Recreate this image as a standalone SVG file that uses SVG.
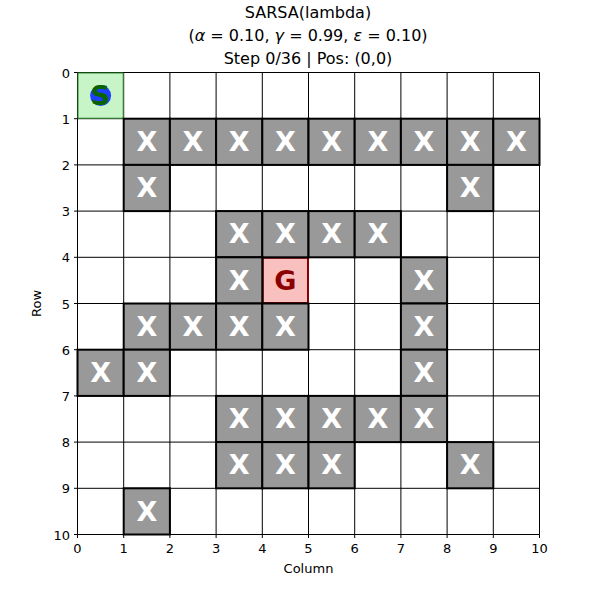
<svg xmlns="http://www.w3.org/2000/svg" width="600" height="600" viewBox="0 0 600 600">
<style>
text{font-family:"DejaVu Sans","Liberation Sans",sans-serif;fill:#000}
.title{font-size:16px;text-anchor:middle}
.tick{font-size:13px}
.tx{text-anchor:middle}
.ty{text-anchor:end}
.grid line{stroke:#000;stroke-width:1}
.obs rect{fill:#999999;stroke:#000;stroke-width:2}
.obs text{fill:#fff;font-size:27px;font-weight:bold;text-anchor:middle}
.ax{stroke:#000;stroke-width:1}
</style>
<rect width="600" height="600" fill="#fff"/>
<text class="title" x="308" y="18">SARSA(lambda)</text>
<text class="title" x="308" y="41">(<tspan font-style="italic">α</tspan> = 0.10, <tspan font-style="italic">γ</tspan> = 0.99, <tspan font-style="italic">ε</tspan> = 0.10)</text>
<text class="title" x="308" y="64">Step 0/36 | Pos: (0,0)</text>
<g class="grid">
<line x1="77.5" y1="72.5" x2="539.5" y2="72.5"/><line x1="77.5" y1="118.7" x2="539.5" y2="118.7"/><line x1="77.5" y1="164.9" x2="539.5" y2="164.9"/><line x1="77.5" y1="211.1" x2="539.5" y2="211.1"/><line x1="77.5" y1="257.3" x2="539.5" y2="257.3"/><line x1="77.5" y1="303.5" x2="539.5" y2="303.5"/><line x1="77.5" y1="349.7" x2="539.5" y2="349.7"/><line x1="77.5" y1="395.9" x2="539.5" y2="395.9"/><line x1="77.5" y1="442.1" x2="539.5" y2="442.1"/><line x1="77.5" y1="488.3" x2="539.5" y2="488.3"/><line x1="77.5" y1="534.5" x2="539.5" y2="534.5"/>
<line x1="77.5" y1="72.5" x2="77.5" y2="534.5"/><line x1="123.7" y1="72.5" x2="123.7" y2="534.5"/><line x1="169.9" y1="72.5" x2="169.9" y2="534.5"/><line x1="216.1" y1="72.5" x2="216.1" y2="534.5"/><line x1="262.3" y1="72.5" x2="262.3" y2="534.5"/><line x1="308.5" y1="72.5" x2="308.5" y2="534.5"/><line x1="354.7" y1="72.5" x2="354.7" y2="534.5"/><line x1="400.9" y1="72.5" x2="400.9" y2="534.5"/><line x1="447.1" y1="72.5" x2="447.1" y2="534.5"/><line x1="493.3" y1="72.5" x2="493.3" y2="534.5"/><line x1="539.5" y1="72.5" x2="539.5" y2="534.5"/>
</g>
<g id="start">
<rect x="78" y="73" width="45.2" height="45.2" fill="#c8f5c8" stroke="#2e8b2e" stroke-width="1"/>
<circle cx="100.6" cy="95.6" r="10.5" fill="#1f3fff"/>
<text x="100.6" y="105" font-size="27" font-weight="bold" text-anchor="middle" style="fill:#0a6400">S</text>
</g>
<g id="goal">
<rect x="262.8" y="257.8" width="45.2" height="45.2" fill="#f9c0c0" stroke="#8b0000" stroke-width="2"/>
<text x="285.4" y="290" font-size="27" font-weight="bold" text-anchor="middle" style="fill:#8b0000">G</text>
</g>
<g class="obs">
<g id="o-1-1"><rect x="123.7" y="118.7" width="46.2" height="46.2"/><text x="146.8" y="151">X</text></g>
<g id="o-1-2"><rect x="169.9" y="118.7" width="46.2" height="46.2"/><text x="193" y="151">X</text></g>
<g id="o-1-3"><rect x="216.1" y="118.7" width="46.2" height="46.2"/><text x="239.2" y="151">X</text></g>
<g id="o-1-4"><rect x="262.3" y="118.7" width="46.2" height="46.2"/><text x="285.4" y="151">X</text></g>
<g id="o-1-5"><rect x="308.5" y="118.7" width="46.2" height="46.2"/><text x="331.6" y="151">X</text></g>
<g id="o-1-6"><rect x="354.7" y="118.7" width="46.2" height="46.2"/><text x="377.8" y="151">X</text></g>
<g id="o-1-7"><rect x="400.9" y="118.7" width="46.2" height="46.2"/><text x="424" y="151">X</text></g>
<g id="o-1-8"><rect x="447.1" y="118.7" width="46.2" height="46.2"/><text x="470.2" y="151">X</text></g>
<g id="o-1-9"><rect x="493.3" y="118.7" width="46.2" height="46.2"/><text x="516.4" y="151">X</text></g>
<g id="o-2-1"><rect x="123.7" y="164.9" width="46.2" height="46.2"/><text x="146.8" y="197.2">X</text></g>
<g id="o-2-8"><rect x="447.1" y="164.9" width="46.2" height="46.2"/><text x="470.2" y="197.2">X</text></g>
<g id="o-3-3"><rect x="216.1" y="211.1" width="46.2" height="46.2"/><text x="239.2" y="243.4">X</text></g>
<g id="o-3-4"><rect x="262.3" y="211.1" width="46.2" height="46.2"/><text x="285.4" y="243.4">X</text></g>
<g id="o-3-5"><rect x="308.5" y="211.1" width="46.2" height="46.2"/><text x="331.6" y="243.4">X</text></g>
<g id="o-3-6"><rect x="354.7" y="211.1" width="46.2" height="46.2"/><text x="377.8" y="243.4">X</text></g>
<g id="o-4-3"><rect x="216.1" y="257.3" width="46.2" height="46.2"/><text x="239.2" y="289.6">X</text></g>
<g id="o-4-7"><rect x="400.9" y="257.3" width="46.2" height="46.2"/><text x="424" y="289.6">X</text></g>
<g id="o-5-1"><rect x="123.7" y="303.5" width="46.2" height="46.2"/><text x="146.8" y="335.8">X</text></g>
<g id="o-5-2"><rect x="169.9" y="303.5" width="46.2" height="46.2"/><text x="193" y="335.8">X</text></g>
<g id="o-5-3"><rect x="216.1" y="303.5" width="46.2" height="46.2"/><text x="239.2" y="335.8">X</text></g>
<g id="o-5-4"><rect x="262.3" y="303.5" width="46.2" height="46.2"/><text x="285.4" y="335.8">X</text></g>
<g id="o-5-7"><rect x="400.9" y="303.5" width="46.2" height="46.2"/><text x="424" y="335.8">X</text></g>
<g id="o-6-0"><rect x="77.5" y="349.7" width="46.2" height="46.2"/><text x="100.6" y="382">X</text></g>
<g id="o-6-1"><rect x="123.7" y="349.7" width="46.2" height="46.2"/><text x="146.8" y="382">X</text></g>
<g id="o-6-7"><rect x="400.9" y="349.7" width="46.2" height="46.2"/><text x="424" y="382">X</text></g>
<g id="o-7-3"><rect x="216.1" y="395.9" width="46.2" height="46.2"/><text x="239.2" y="428.2">X</text></g>
<g id="o-7-4"><rect x="262.3" y="395.9" width="46.2" height="46.2"/><text x="285.4" y="428.2">X</text></g>
<g id="o-7-5"><rect x="308.5" y="395.9" width="46.2" height="46.2"/><text x="331.6" y="428.2">X</text></g>
<g id="o-7-6"><rect x="354.7" y="395.9" width="46.2" height="46.2"/><text x="377.8" y="428.2">X</text></g>
<g id="o-7-7"><rect x="400.9" y="395.9" width="46.2" height="46.2"/><text x="424" y="428.2">X</text></g>
<g id="o-8-3"><rect x="216.1" y="442.1" width="46.2" height="46.2"/><text x="239.2" y="474.4">X</text></g>
<g id="o-8-4"><rect x="262.3" y="442.1" width="46.2" height="46.2"/><text x="285.4" y="474.4">X</text></g>
<g id="o-8-5"><rect x="308.5" y="442.1" width="46.2" height="46.2"/><text x="331.6" y="474.4">X</text></g>
<g id="o-8-8"><rect x="447.1" y="442.1" width="46.2" height="46.2"/><text x="470.2" y="474.4">X</text></g>
<g id="o-9-1"><rect x="123.7" y="488.3" width="46.2" height="46.2"/><text x="146.8" y="520.6">X</text></g>
</g>
<g id="axes">
<path class="ax" fill="none" d="M77.5 72.5H74M77.5 118.7H74M77.5 164.9H74M77.5 211.1H74M77.5 257.3H74M77.5 303.5H74M77.5 349.7H74M77.5 395.9H74M77.5 442.1H74M77.5 488.3H74M77.5 534.5H74M77.5 534.5V538M123.7 534.5V538M169.9 534.5V538M216.1 534.5V538M262.3 534.5V538M308.5 534.5V538M354.7 534.5V538M400.9 534.5V538M447.1 534.5V538M493.3 534.5V538M539.5 534.5V538"/>
<g class="tick ty">
<text x="70" y="77.5">0</text><text x="70" y="123.7">1</text><text x="70" y="169.9">2</text><text x="70" y="216.1">3</text><text x="70" y="262.3">4</text><text x="70" y="308.5">5</text><text x="70" y="354.7">6</text><text x="70" y="400.9">7</text><text x="70" y="447.1">8</text><text x="70" y="493.3">9</text><text x="70" y="539.5">10</text>
</g>
<g class="tick tx">
<text x="77.5" y="553">0</text><text x="123.7" y="553">1</text><text x="169.9" y="553">2</text><text x="216.1" y="553">3</text><text x="262.3" y="553">4</text><text x="308.5" y="553">5</text><text x="354.7" y="553">6</text><text x="400.9" y="553">7</text><text x="447.1" y="553">8</text><text x="493.3" y="553">9</text><text x="539.5" y="553">10</text>
</g>
<text x="308.5" y="573" font-size="13" text-anchor="middle">Column</text>
<text transform="translate(41 303.5) rotate(-90)" font-size="13" text-anchor="middle">Row</text>
</g>
</svg>
